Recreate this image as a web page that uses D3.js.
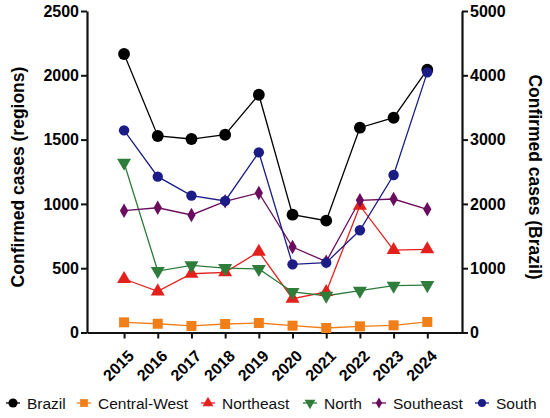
<!DOCTYPE html>
<html>
<head>
<meta charset="utf-8">
<script src="https://cdn.jsdelivr.net/npm/d3@7"></script>
<style>
  body { margin: 0; background: #fff; }
  svg { font-family: "Liberation Sans", Arial, sans-serif; }
</style>
</head>
<body>
<svg id="chart" width="550" height="418"></svg>
<script>
const years = [2015, 2016, 2017, 2018, 2019, 2020, 2021, 2022, 2023, 2024];
const brazil = [4331, 3056, 3009, 3076, 3698, 1832, 1739, 3185, 3340, 4087];
const centralWest = [79, 68, 51, 66, 74, 53, 35, 48, 56, 82];
const northeast = [416, 320, 457, 468, 628, 263, 315, 986, 641, 647];
const north = [1320, 478, 522, 501, 494, 315, 286, 325, 364, 369];
const southeast = [947, 970, 914, 1020, 1085, 665, 551, 1028, 1038, 958];
const south = [1572, 1212, 1064, 1023, 1401, 530, 543, 795, 1225, 2023];
const leftTicks = [0, 500, 1000, 1500, 2000, 2500];
const rightTicks = [0, 1000, 2000, 3000, 4000, 5000];

const svg = d3.select("#chart");

const x = d3.scaleLinear().domain([2013.9, 2025.03]).range([87, 462]);
const yL = d3.scaleLinear().domain([0, 2500]).range([332.5, 11]);
const yR = d3.scaleLinear().domain([0, 5000]).range([332.5, 11]);

// series: name, values, colour, symbol, axis
const series = [
    { name: "Brazil", values: brazil, color: "#000000", sym: d3.symbolCircle, size: 110, axis: yR },
    { name: "Central-West", values: centralWest, color: "#f07f1a", sym: d3.symbolSquare, size: 100, axis: yL },
    { name: "Northeast", values: northeast, color: "#e3201b", sym: d3.symbolTriangle, size: 85, axis: yL },
    { name: "North", values: north, color: "#2e7d3a", sym: d3.symbolTriangle, size: 85, axis: yL, flip: true },
    { name: "Southeast", values: southeast, color: "#6a0d5e", sym: d3.symbolDiamond, size: 60, axis: yL },
    { name: "South", values: south, color: "#1c1c86", sym: d3.symbolCircle, size: 85, axis: yL }
];

// axes
const fmt = d3.format("d");
const axL = svg.append("g").attr("transform", "translate(87,0)")
    .call(d3.axisLeft(yL).tickValues(leftTicks).tickFormat(fmt).tickSize(6).tickSizeOuter(0));
const axR = svg.append("g").attr("transform", "translate(462,0)")
    .call(d3.axisRight(yR).tickValues(rightTicks).tickFormat(fmt).tickSize(6).tickSizeOuter(0));
const axX = svg.append("g").attr("transform", "translate(0,332.5)")
    .call(d3.axisBottom(x).tickValues(years).tickFormat(fmt).tickSize(6).tickSizeOuter(0));

[axL, axR, axX].forEach(a => {
    a.selectAll("path.domain").attr("stroke", "#111").attr("stroke-width", 2.2);
    a.selectAll(".tick line").attr("stroke", "#111").attr("stroke-width", 2);
    a.selectAll("text").attr("font-size", 16).attr("font-weight", "bold").attr("fill", "#000")
        .attr("font-family", "Liberation Sans, Arial, sans-serif");
});
axL.selectAll(".tick text").attr("x", -8);
axR.selectAll(".tick text").attr("x", 8);
axX.selectAll(".tick text")
    .attr("text-anchor", "end")
    .attr("dy", 0)
    .attr("transform", "translate(4,18) rotate(-45)");

// titles
svg.append("text")
    .attr("transform", "translate(24,177) rotate(-90)")
    .attr("text-anchor", "middle")
    .attr("font-size", 17.5).attr("font-weight", "bold")
    .text("Confirmed cases (regions)");
svg.append("text")
    .attr("transform", "translate(529,177) rotate(90)")
    .attr("text-anchor", "middle")
    .attr("font-size", 17.5).attr("font-weight", "bold")
    .text("Confirmed cases (Brazil)");

// lines and markers
const plot = svg.append("g");
series.forEach(s => {
    const line = d3.line().x((d, i) => x(years[i])).y(d => s.axis(d));
    plot.append("path")
        .datum(s.values)
        .attr("d", line)
        .attr("fill", "none")
        .attr("stroke", s.color)
        .attr("stroke-width", 1.3);
});
series.forEach(s => {
    plot.selectAll(null)
        .data(s.values)
        .enter().append("path")
        .attr("d", d3.symbol().type(s.sym).size(s.size))
        .attr("transform", (d, i) => `translate(${x(years[i])},${s.axis(d)})` + (s.flip ? " rotate(180)" : ""))
        .attr("fill", s.color);
});

// legend
const legendX = [13, 84, 208, 310, 379, 482];
const legend = svg.append("g").attr("transform", "translate(0,403)");
series.forEach((s, i) => {
    const g = legend.append("g").attr("transform", `translate(${legendX[i]},0)`);
    g.append("line").attr("x1", -7).attr("x2", 7).attr("stroke", s.color).attr("stroke-width", 1.3);
    g.append("path")
        .attr("d", d3.symbol().type(s.sym).size(s.size * 0.6))
        .attr("transform", s.flip ? "rotate(180)" : null)
        .attr("fill", s.color);
    g.append("text")
        .attr("x", 14).attr("y", 5.5)
        .attr("font-size", 15.5)
        .attr("fill", "#111")
        .text(s.name);
});
</script>
</body>
</html>
